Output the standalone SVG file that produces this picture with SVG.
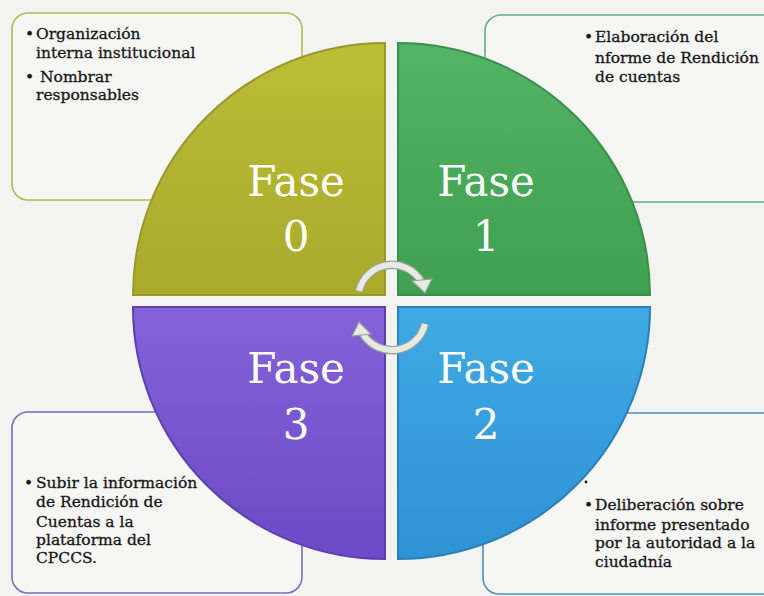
<svg xmlns="http://www.w3.org/2000/svg" width="764" height="596" viewBox="0 0 764 596">
<defs>
<style>
.box{fill:#f6f6f4;stroke-width:1.6}
.t{font-family:"DejaVu Serif","Liberation Serif",serif;font-size:15.5px;fill:#161616;stroke:#161616;stroke-width:0.3}
.f{font-family:"DejaVu Serif","Liberation Serif",serif;font-size:42px;fill:#ffffff;text-anchor:middle}
.q{stroke-width:2}
.arc{fill:none;stroke:#e6eae0;stroke-width:6;stroke-linecap:butt}
.arcO{fill:none;stroke:#9aa095;stroke-width:8.5;stroke-linecap:butt}
.head{fill:#e6eae0;stroke:#9aa095;stroke-width:1.2}
</style>
<linearGradient id="g0" x1="0" y1="0" x2="0" y2="1"><stop offset="0" stop-color="#bcbd38"/><stop offset="1" stop-color="#a8aa2a"/></linearGradient>
<linearGradient id="g1" x1="0" y1="0" x2="0" y2="1"><stop offset="0" stop-color="#52b464"/><stop offset="1" stop-color="#3f9f52"/></linearGradient>
<linearGradient id="g2" x1="0" y1="0" x2="0" y2="1"><stop offset="0" stop-color="#3eaae4"/><stop offset="1" stop-color="#2f92d2"/></linearGradient>
<linearGradient id="g3" x1="0" y1="0" x2="0" y2="1"><stop offset="0" stop-color="#8462d8"/><stop offset="1" stop-color="#6c4ac8"/></linearGradient>
</defs>
<rect width="764" height="596" fill="#f3f3f1"/>

<g id="box0">
<rect class="box" x="12" y="13" width="290" height="187" rx="16" stroke="#b7b84e"/>
<text class="t"><tspan x="25" y="39">•</tspan><tspan x="36" y="39">Organización</tspan><tspan x="36" y="58">interna institucional</tspan><tspan x="25" y="82">•</tspan><tspan x="40" y="82">Nombrar</tspan><tspan x="36" y="100">responsables</tspan></text>
</g>
<g id="box1">
<rect class="box" x="485" y="15" width="300" height="187" rx="16" stroke="#5fb27a"/>
<text class="t"><tspan x="584" y="42">•</tspan><tspan x="595" y="42">Elaboración del</tspan><tspan x="595" y="63">nforme de Rendición</tspan><tspan x="595" y="82">de cuentas</tspan></text>
</g>
<g id="box3">
<rect class="box" x="12" y="412" width="290" height="181" rx="16" stroke="#7a6cbf"/>
<text class="t"><tspan x="24" y="488">•</tspan><tspan x="36" y="488">Subir la información</tspan><tspan x="36" y="507">de Rendición de</tspan><tspan x="36" y="527">Cuentas a la</tspan><tspan x="36" y="545">plataforma del</tspan><tspan x="36" y="563">CPCCS.</tspan></text>
</g>
<g id="box2">
<rect class="box" x="483" y="413" width="300" height="181" rx="16" stroke="#4a8fc2"/>
<circle cx="586" cy="482" r="1.4" fill="#1c1c1c"/>
<text class="t"><tspan x="584" y="510">•</tspan><tspan x="595" y="510">Deliberación sobre</tspan><tspan x="595" y="530">informe presentado</tspan><tspan x="595" y="548">por la autoridad a la</tspan><tspan x="595" y="567">ciudadnía</tspan></text>
</g>

<g id="fase0">
<path class="q" d="M385,295 L133,295 A252,252 0 0 1 385,43 Z" fill="url(#g0)" stroke="#98992a"/>
<text class="f" x="296" y="196">Fase</text><text class="f" x="296" y="251">0</text>
</g>
<g id="fase1">
<path class="q" d="M398,295 L398,43 A252,252 0 0 1 650,295 Z" fill="url(#g1)" stroke="#3a8f4a"/>
<text class="f" x="486" y="196">Fase</text><text class="f" x="486" y="251">1</text>
</g>
<g id="fase2">
<path class="q" d="M398,307 L650,307 A252,252 0 0 1 398,559 Z" fill="url(#g2)" stroke="#2a7fba"/>
<text class="f" x="486" y="383">Fase</text><text class="f" x="486" y="439">2</text>
</g>
<g id="fase3">
<path class="q" d="M385,307 L385,559 A252,252 0 0 1 133,307 Z" fill="url(#g3)" stroke="#5c3fb0"/>
<text class="f" x="296" y="383">Fase</text><text class="f" x="296" y="439">3</text>
</g>

<g id="connectors">
<path class="arcO" d="M359,291 A34,34 0 0 1 421,281"/>
<path class="arc" d="M359,291 A34,34 0 0 1 421,281"/>
<polygon class="head" points="412,281 432,279 425,293"/>
<path class="arcO" d="M425,324 A34,34 0 0 1 363,334"/>
<path class="arc" d="M425,324 A34,34 0 0 1 363,334"/>
<polygon class="head" points="371,334 352,336 359,322"/>
</g>
</svg>
